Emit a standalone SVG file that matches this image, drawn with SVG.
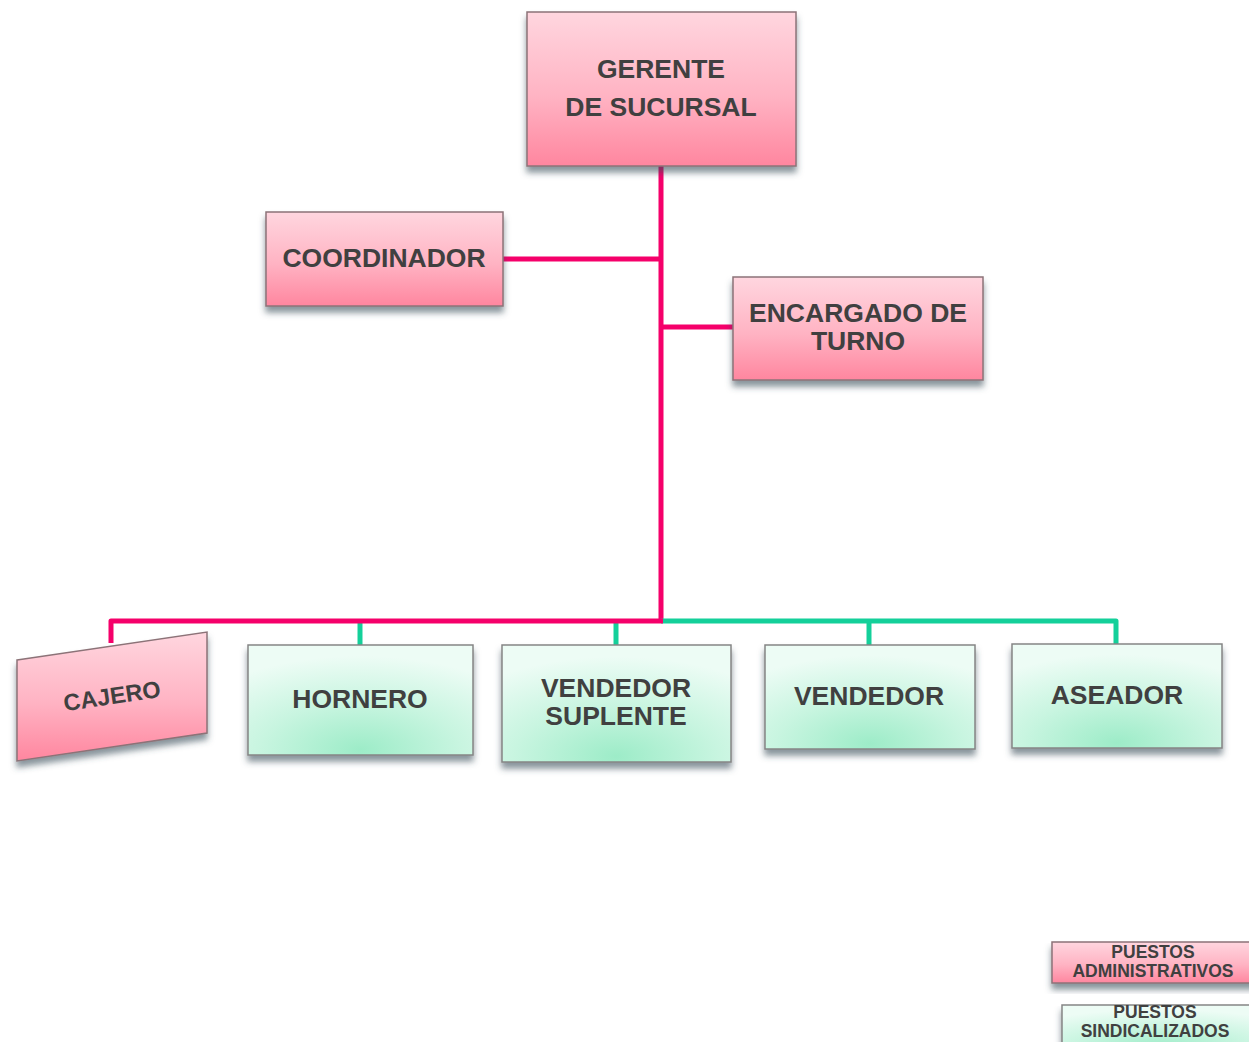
<svg xmlns="http://www.w3.org/2000/svg" width="1249" height="1042" viewBox="0 0 1249 1042">
  <defs>
    <linearGradient id="pinkFill" x1="0" y1="0" x2="0" y2="1">
      <stop offset="0" stop-color="#FFD6DF"/>
      <stop offset="0.55" stop-color="#FFB3C3"/>
      <stop offset="1" stop-color="#FF869F"/>
    </linearGradient>
    <radialGradient id="greenFill" cx="0.5" cy="1" r="0.9" fx="0.5" fy="0.95">
      <stop offset="0" stop-color="#9DECC8"/>
      <stop offset="0.5" stop-color="#C8F5E0"/>
      <stop offset="1" stop-color="#EDFCF5"/>
    </radialGradient>
    <filter id="shadow" x="-10%" y="-10%" width="120%" height="135%">
      <feGaussianBlur in="SourceAlpha" stdDeviation="3"/>
      <feOffset dx="0" dy="6" result="b"/>
      <feFlood flood-color="#3A4E5A" flood-opacity="0.6"/>
      <feComposite in2="b" operator="in"/>
      <feMerge><feMergeNode/><feMergeNode in="SourceGraphic"/></feMerge>
    </filter>
  </defs>
  <style>
    .pink { fill: url(#pinkFill); stroke: #8C7378; stroke-width: 1.5; filter: url(#shadow); }
    .green { fill: url(#greenFill); stroke: #858585; stroke-width: 1.5; filter: url(#shadow); }
    .lbl { font-family: "Liberation Sans", Arial, sans-serif; font-weight: bold; font-size: 26.5px; fill: #404040; text-anchor: middle; }
    .small { font-size: 23.5px; }
    .leg { font-family: "Liberation Sans", Arial, sans-serif; font-weight: bold; font-size: 17.5px; fill: #404040; text-anchor: middle; }
    .cp { fill: none; stroke: #F5006A; stroke-width: 5; stroke-linejoin: round; }
    .cg { fill: none; stroke: #14D09A; stroke-width: 5; stroke-linejoin: round; }
  </style>

  <!-- connectors -->
  <g id="connectors">
    <path class="cp" d="M661 166 V621"/>
    <path class="cp" d="M503 259 H659"/>
    <path class="cp" d="M663 327 H733"/>
    <path class="cg" d="M661 621 H1116 V644"/>
    <path class="cg" d="M360 621 V645"/>
    <path class="cg" d="M616 621 V645"/>
    <path class="cg" d="M869 621 V645"/>
    <path class="cp" d="M663 621 H111 V643"/>
  </g>

  <g id="gerente">
    <rect class="pink" x="527" y="12" width="269" height="154"/>
    <text class="lbl" x="661" y="78">GERENTE</text>
    <text class="lbl" x="661" y="116">DE SUCURSAL</text>
  </g>

  <g id="coordinador">
    <rect class="pink" x="266" y="212" width="237" height="94"/>
    <text class="lbl" x="384" y="267">COORDINADOR</text>
  </g>

  <g id="encargado">
    <rect class="pink" x="733" y="277" width="250" height="103"/>
    <text class="lbl" x="858" y="322">ENCARGADO DE</text>
    <text class="lbl" x="858" y="350">TURNO</text>
  </g>

  <g id="cajero">
    <path class="pink" d="M17 660 L207 632 L207 733 L17 761 Z" stroke="none"/>
    <text class="lbl small" x="112" y="704" transform="rotate(-8.5 112 696)">CAJERO</text>
  </g>

  <g id="hornero">
    <rect class="green" x="248" y="645" width="225" height="110"/>
    <text class="lbl" x="360" y="708">HORNERO</text>
  </g>

  <g id="vendedor-suplente">
    <rect class="green" x="502" y="645" width="229" height="117"/>
    <text class="lbl" x="616" y="697">VENDEDOR</text>
    <text class="lbl" x="616" y="725">SUPLENTE</text>
  </g>

  <g id="vendedor">
    <rect class="green" x="765" y="645" width="210" height="104"/>
    <text class="lbl" x="869" y="705">VENDEDOR</text>
  </g>

  <g id="aseador">
    <rect class="green" x="1012" y="644" width="210" height="104"/>
    <text class="lbl" x="1117" y="704">ASEADOR</text>
  </g>

  <g id="legend-administrativos">
    <rect class="pink" x="1052" y="942" width="205" height="41"/>
    <text class="leg" x="1153" y="958">PUESTOS</text>
    <text class="leg" x="1153" y="977">ADMINISTRATIVOS</text>
  </g>

  <g id="legend-sindicalizados">
    <rect class="green" x="1062" y="1005" width="195" height="45"/>
    <text class="leg" x="1155" y="1018">PUESTOS</text>
    <text class="leg" x="1155" y="1037">SINDICALIZADOS</text>
  </g>
</svg>
